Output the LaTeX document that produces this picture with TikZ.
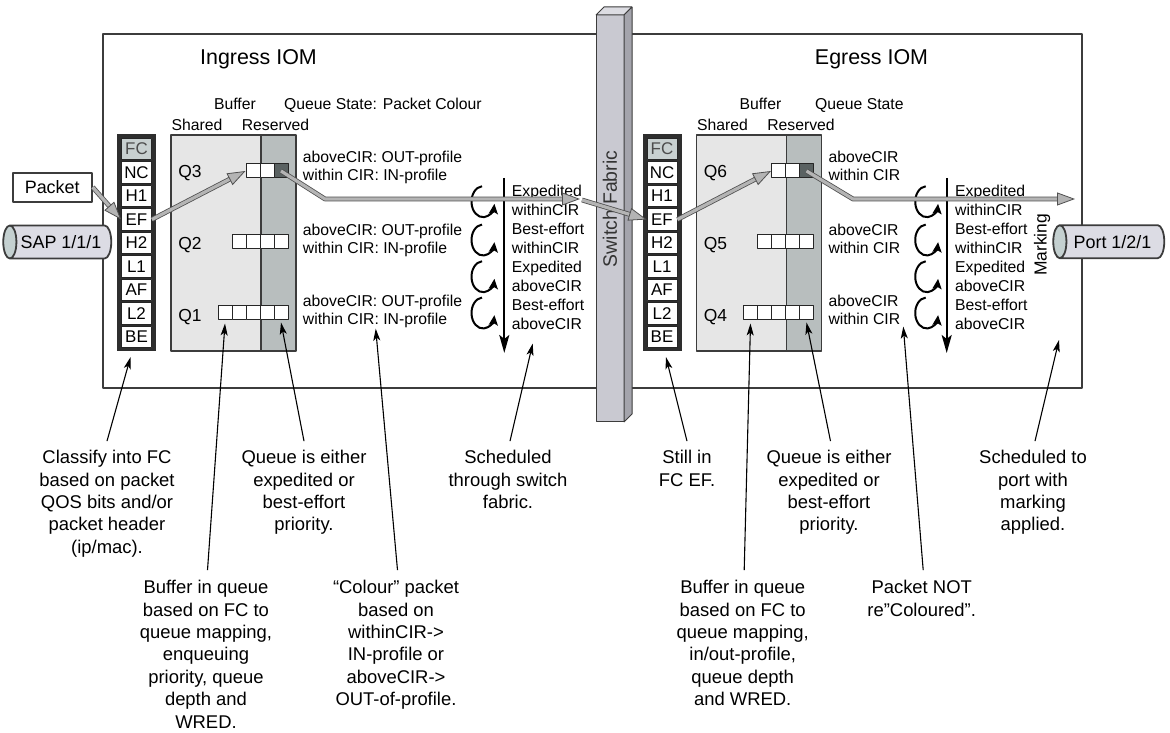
\documentclass[tikz,border=0pt]{standalone}
\usepackage{fontspec}
\setmainfont{Liberation Sans}
\usetikzlibrary{arrows.meta,shapes.geometric}
\definecolor{fcgrey}{HTML}{C8D0D0}
\definecolor{sharedgrey}{HTML}{E6E6E6}
\definecolor{resgrey}{HTML}{B8BEBE}
\definecolor{darkcell}{HTML}{5A6262}
\definecolor{fatgrey}{HTML}{B4B4B4}
\definecolor{fatedge}{HTML}{505050}
\definecolor{barfront}{HTML}{C9C9D1}
\definecolor{barside}{HTML}{A4A4AC}
\definecolor{bartop}{HTML}{DCDCE2}
\definecolor{pipebody}{HTML}{DCDCE4}
\definecolor{pipeend}{HTML}{C4D0D0}
\definecolor{boxedge}{HTML}{3C3C3C}
\begin{document}
\begin{tikzpicture}[>=latex,line join=bevel,
  iom/.style={draw=boxedge,line width=1.5bp},
  fcframe/.style={fill=black!82},
  fccell/.style={draw=black!85,fill=white,line width=0.8bp,minimum width=30bp,minimum height=21.5bp,inner sep=0pt,font=\fontsize{17}{17}\selectfont},
  qcell/.style={draw=black!85,fill=white,line width=1bp,minimum size=14bp,inner sep=0pt},
  bufedge/.style={draw=boxedge,line width=1.2bp},
  qname/.style={inner sep=0pt,anchor=base,font=\fontsize{17.5}{17.5}\selectfont},
  head/.style={inner sep=0pt,anchor=base,font=\fontsize{15.8}{15.8}\selectfont},
  title/.style={inner sep=0pt,anchor=base,font=\fontsize{21.5}{21.5}\selectfont},
  state/.style={inner sep=0pt,anchor=north west,align=left,font=\fontsize{15.8}{18.3}\selectfont},
  order/.style={inner sep=0pt,anchor=north west,align=left,font=\fontsize{15.8}{19.1}\selectfont},
  note/.style={inner sep=0pt,anchor=north,align=center,font=\fontsize{18.5}{22.5}\selectfont},
  pipe/.style={cylinder,shape border rotate=180,aspect=1,draw=boxedge,line width=1.8bp,cylinder uses custom fill,cylinder body fill=pipebody,cylinder end fill=pipeend,minimum width=33bp,inner sep=0pt,font=\fontsize{18}{18}\selectfont},
  fatarrow/.style={draw=fatedge,line width=0.8bp,double=fatgrey,double distance=3.2bp,-{Triangle[length=18bp,width=13bp,fill=fatgrey,color=fatedge,line width=0.8bp]}},
  callout/.style={draw=black,line width=1.1bp,-{Stealth[length=12bp,width=7bp,inset=3bp]}},
  sched/.style={draw=black,line width=2.2bp,-{Stealth[length=18bp,width=10bp,inset=4bp]}},
  turn/.style={draw=black,line width=2bp,-{Stealth[length=10bp,width=9bp,inset=2bp]}},
]
\useasboundingbox (0bp,0bp) rectangle (1170bp,733bp);
%%
\draw [iom] (103bp,345bp) rectangle (1082bp,699bp);
\node (ing_title) at (258.5bp,668.3bp) [title] {Ingress IOM};
\node (egr_title) at (871.5bp,668.3bp) [title] {Egress IOM};
\node (ing_buffer) at (235bp,623.3bp) [head] {Buffer};
\node (ing_state) at (284bp,623.3bp) [head,anchor=base west] {Queue State: Packet Colour};
\node (ing_shared) at (197bp,602.3bp) [head] {Shared};
\node (ing_reserved) at (275.5bp,602.3bp) [head] {Reserved};
\node (egr_buffer) at (760.5bp,623.3bp) [head] {Buffer};
\node (egr_state) at (815bp,623.3bp) [head,anchor=base west] {Queue State};
\node (egr_shared) at (722.5bp,602.3bp) [head] {Shared};
\node (egr_reserved) at (801bp,602.3bp) [head] {Reserved};
%
\fill [fcframe] (117bp,381.5bp) rectangle (156bp,598.5bp);
  \node (ing_fc) at (136.5bp,584bp) [fccell,fill=fcgrey,text=black!70] {FC};
  \node (ing_nc) at (136.5bp,560.5bp) [fccell] {NC};
  \node (ing_h1) at (136.5bp,537bp) [fccell] {H1};
  \node (ing_ef) at (136.5bp,513.5bp) [fccell] {EF};
  \node (ing_h2) at (136.5bp,490bp) [fccell] {H2};
  \node (ing_l1) at (136.5bp,466.5bp) [fccell] {L1};
  \node (ing_af) at (136.5bp,443bp) [fccell] {AF};
  \node (ing_l2) at (136.5bp,419.5bp) [fccell] {L2};
  \node (ing_be) at (136.5bp,396bp) [fccell] {BE};
\fill [fcframe] (642.5bp,381.5bp) rectangle (681.5bp,598.5bp);
  \node (egr_fc) at (662bp,584bp) [fccell,fill=fcgrey,text=black!70] {FC};
  \node (egr_nc) at (662bp,560.5bp) [fccell] {NC};
  \node (egr_h1) at (662bp,537bp) [fccell] {H1};
  \node (egr_ef) at (662bp,513.5bp) [fccell] {EF};
  \node (egr_h2) at (662bp,490bp) [fccell] {H2};
  \node (egr_l1) at (662bp,466.5bp) [fccell] {L1};
  \node (egr_af) at (662bp,443bp) [fccell] {AF};
  \node (egr_l2) at (662bp,419.5bp) [fccell] {L2};
  \node (egr_be) at (662bp,396bp) [fccell] {BE};
%
\fill [sharedgrey] (171bp,382bp) rectangle (261bp,598bp);
\fill [resgrey] (261bp,382bp) rectangle (296bp,598bp);
\draw [bufedge] (171bp,382bp) rectangle (296bp,598bp);
\draw [bufedge] (261bp,382bp) -- (261bp,598bp);
\fill [sharedgrey] (696.5bp,382bp) rectangle (786.5bp,598bp);
\fill [resgrey] (786.5bp,382bp) rectangle (821.5bp,598bp);
\draw [bufedge] (696.5bp,382bp) rectangle (821.5bp,598bp);
\draw [bufedge] (786.5bp,382bp) -- (786.5bp,598bp);
%
\node (ing_q3) at (190bp,555bp) [qname] {Q3};
\node (ing_q2) at (190bp,483.7bp) [qname] {Q2};
\node (ing_q1) at (190bp,411.7bp) [qname] {Q1};
  \node (ing_q3_1) at (253bp,562bp) [qcell] {};
  \node (ing_q3_2) at (267bp,562bp) [qcell] {};
  \node (ing_q3_3) at (281bp,562bp) [qcell,fill=darkcell] {};
  \node (ing_q2_1) at (239bp,491bp) [qcell] {};
  \node (ing_q2_2) at (253bp,491bp) [qcell] {};
  \node (ing_q2_3) at (267bp,491bp) [qcell] {};
  \node (ing_q2_4) at (281bp,491bp) [qcell] {};
  \node (ing_q1_1) at (225bp,420bp) [qcell] {};
  \node (ing_q1_2) at (239bp,420bp) [qcell] {};
  \node (ing_q1_3) at (253bp,420bp) [qcell] {};
  \node (ing_q1_4) at (267bp,420bp) [qcell] {};
  \node (ing_q1_5) at (281bp,420bp) [qcell] {};
\node (egr_q6) at (715.5bp,555bp) [qname] {Q6};
\node (egr_q5) at (715.5bp,483.7bp) [qname] {Q5};
\node (egr_q4) at (715.5bp,411.7bp) [qname] {Q4};
  \node (egr_q6_1) at (778.5bp,562bp) [qcell] {};
  \node (egr_q6_2) at (792.5bp,562bp) [qcell] {};
  \node (egr_q6_3) at (806.5bp,562bp) [qcell,fill=darkcell] {};
  \node (egr_q5_1) at (764.5bp,491bp) [qcell] {};
  \node (egr_q5_2) at (778.5bp,491bp) [qcell] {};
  \node (egr_q5_3) at (792.5bp,491bp) [qcell] {};
  \node (egr_q5_4) at (806.5bp,491bp) [qcell] {};
  \node (egr_q4_1) at (750.5bp,420bp) [qcell] {};
  \node (egr_q4_2) at (764.5bp,420bp) [qcell] {};
  \node (egr_q4_3) at (778.5bp,420bp) [qcell] {};
  \node (egr_q4_4) at (792.5bp,420bp) [qcell] {};
  \node (egr_q4_5) at (806.5bp,420bp) [qcell] {};
%
\node (ing_lab3) at (302.7bp,582bp) [state] {aboveCIR: OUT-profile\\within CIR: IN-profile};
\node (ing_lab2) at (302.7bp,509.3bp) [state] {aboveCIR: OUT-profile\\within CIR: IN-profile};
\node (ing_lab1) at (302.7bp,438.6bp) [state] {aboveCIR: OUT-profile\\within CIR: IN-profile};
\node (egr_lab6) at (828.3bp,582bp) [state] {aboveCIR\\within CIR};
\node (egr_lab5) at (828.3bp,509.3bp) [state] {aboveCIR\\within CIR};
\node (egr_lab4) at (828.3bp,438.6bp) [state] {aboveCIR\\within CIR};
\node (ing_sched) at (511.7bp,548.6bp) [order] {Expedited\\withinCIR\\Best-effort\\withinCIR\\Expedited\\aboveCIR\\Best-effort\\aboveCIR};
\node (egr_sched) at (955bp,548.6bp) [order] {Expedited\\withinCIR\\Best-effort\\withinCIR\\Expedited\\aboveCIR\\Best-effort\\aboveCIR};
\node (marking) at (1042bp,488bp) [rotate=90,inner sep=0pt,font=\fontsize{17.5}{17.5}\selectfont] {Marking};
%
\coordinate (ing_top) at (504.3bp,555bp);
\coordinate (ing_bot) at (504.3bp,380bp);
\coordinate (egr_top) at (946.7bp,555bp);
\coordinate (egr_bot) at (946.7bp,380bp);
\draw [sched] (ing_top) -- (ing_bot);
\draw [sched] (egr_top) -- (egr_bot);
\draw [turn] ([shift={(95:11.5bp and 15.5bp)}]483bp,531.3bp) arc [start angle=95,end angle=352,x radius=11.5bp,y radius=15.5bp];
\draw [turn] ([shift={(95:11.5bp and 15.5bp)}]483bp,493bp) arc [start angle=95,end angle=352,x radius=11.5bp,y radius=15.5bp];
\draw [turn] ([shift={(95:11.5bp and 15.5bp)}]483bp,456.3bp) arc [start angle=95,end angle=352,x radius=11.5bp,y radius=15.5bp];
\draw [turn] ([shift={(95:11.5bp and 15.5bp)}]483bp,420bp) arc [start angle=95,end angle=352,x radius=11.5bp,y radius=15.5bp];
\draw [turn] ([shift={(95:11.5bp and 15.5bp)}]926.7bp,531.3bp) arc [start angle=95,end angle=352,x radius=11.5bp,y radius=15.5bp];
\draw [turn] ([shift={(95:11.5bp and 15.5bp)}]926.7bp,493bp) arc [start angle=95,end angle=352,x radius=11.5bp,y radius=15.5bp];
\draw [turn] ([shift={(95:11.5bp and 15.5bp)}]926.7bp,456.3bp) arc [start angle=95,end angle=352,x radius=11.5bp,y radius=15.5bp];
\draw [turn] ([shift={(95:11.5bp and 15.5bp)}]926.7bp,420bp) arc [start angle=95,end angle=352,x radius=11.5bp,y radius=15.5bp];
%
\filldraw [fill=barfront,draw=boxedge,line width=1bp] (596bp,311bp) rectangle (624bp,718bp);
\filldraw [fill=bartop,draw=boxedge,line width=1bp] (596bp,718bp) -- (604bp,726bp) -- (632bp,726bp) -- (624bp,718bp) -- cycle;
\filldraw [fill=barside,draw=boxedge,line width=1bp] (624bp,718bp) -- (632bp,726bp) -- (632bp,319bp) -- (624bp,311bp) -- cycle;
\node (fabric) at (610bp,524bp) [rotate=90,inner sep=0pt,font=\fontsize{19.5}{19.5}\selectfont,text=black!80] {Switch Fabric};
%
\node (sap) at (61bp,491bp) [pipe,minimum height=108bp] {SAP 1/1/1};
\node (port) at (1112.5bp,491.3bp) [pipe,minimum height=111bp] {Port 1/2/1};
\node (packet) at (52.2bp,545.8bp) [draw=boxedge,line width=2bp,fill=white,minimum width=79bp,minimum height=29bp,inner sep=0pt,font=\fontsize{18}{18}\selectfont] {Packet};
%
\coordinate (ing_bend) at (325bp,534bp);
\coordinate (ing_out) at (580bp,534bp);
\coordinate (fab_in) at (582bp,533bp);
\coordinate (egr_bend) at (853bp,534bp);
\coordinate (port_in) at (1075bp,534bp);
\draw [fatarrow] (packet.east) -- (ing_ef.west);
\draw [fatarrow] (ing_ef.east) -- (ing_q3_1.west);
\draw [fatarrow] (ing_q3_3.center) -- (ing_bend) -- (ing_out);
\draw [fatarrow] (fab_in) -- (egr_ef.west);
\draw [fatarrow] (egr_ef.east) -- (egr_q6_1.west);
\draw [fatarrow] (egr_q6_3.center) -- (egr_bend) -- (port_in);
%
\node (n_classify) at (107bp,282.9bp) [note] {Classify into FC\\based on packet\\QOS bits and/or\\packet header\\(ip/mac).};
\node (n_ing_prio) at (304bp,282.9bp) [note] {Queue is either\\expedited or\\best-effort\\priority.};
\node (n_ing_buf) at (206bp,152.9bp) [note] {Buffer in queue\\based on FC to\\queue mapping,\\enqueuing\\priority, queue\\depth and\\WRED.};
\node (n_colour) at (396bp,152.9bp) [note] {“Colour” packet\\based on\\withinCIR->\\IN-profile or\\aboveCIR->\\OUT-of-profile.};
\node (n_fabric) at (508bp,282.9bp) [note] {Scheduled\\through switch\\fabric.};
\node (n_still) at (687bp,282.9bp) [note] {Still in\\FC EF.};
\node (n_egr_prio) at (829bp,282.9bp) [note] {Queue is either\\expedited or\\best-effort\\priority.};
\node (n_egr_buf) at (742.7bp,152.9bp) [note] {Buffer in queue\\based on FC to\\queue mapping,\\in/out-profile,\\queue depth\\and WRED.};
\node (n_nocolour) at (921.7bp,152.9bp) [note] {Packet NOT\\re”Coloured”.};
\node (n_port) at (1033bp,282.9bp) [note] {Scheduled to\\port with\\marking\\applied.};
\coordinate (mark_pt) at (1059bp,393bp);
  \draw [callout] ([yshift=9bp]n_classify.north) -- ([xshift=-6bp,yshift=-9bp]ing_be.south);
  \draw [callout] ([yshift=9bp]n_ing_prio.north) -- ([yshift=-2bp]ing_q1_5.south);
  \draw [callout] ([xshift=1.5bp,yshift=10bp]n_ing_buf.north) -- ([yshift=-3bp]ing_q1_1.south);
  \draw [callout] ([xshift=1.5bp,yshift=10bp]n_colour.north) -- ([xshift=73bp,yshift=-1bp]ing_lab1.south west);
  \draw [callout] ([xshift=2bp,yshift=9bp]n_fabric.north) -- ([xshift=21bp,yshift=-14bp]ing_sched.south west);
  \draw [callout] ([yshift=9bp]n_still.north) -- ([xshift=4bp,yshift=-9bp]egr_be.south);
  \draw [callout] ([xshift=1.5bp,yshift=9bp]n_egr_prio.north) -- ([yshift=-2bp]egr_q4_5.south);
  \draw [callout] ([xshift=1.5bp,yshift=10bp]n_egr_buf.north) -- ([yshift=-3bp]egr_q4_1.south);
  \draw [callout] ([xshift=1.5bp,yshift=10bp]n_nocolour.north) -- ([xshift=75bp,yshift=-2bp]egr_lab4.south west);
  \draw [callout] ([xshift=2bp,yshift=9bp]n_port.north) -- (mark_pt);
%
\end{tikzpicture}
\end{document}
